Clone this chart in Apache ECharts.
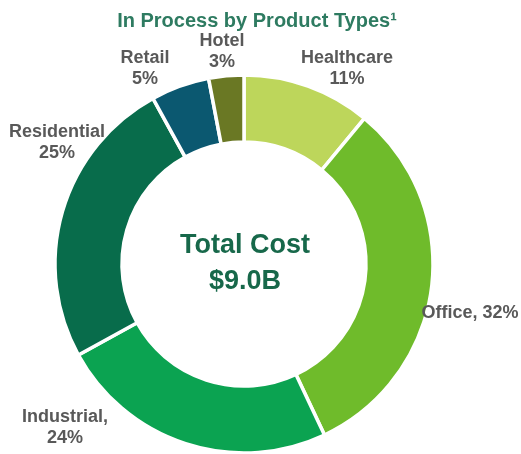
<!DOCTYPE html>
<html>
<head>
<meta charset="utf-8">
<script src="https://cdn.jsdelivr.net/npm/echarts@6/dist/echarts.min.js"></script>
<style>
  html, body { margin: 0; padding: 0; background: #fff; }
  #chart { width: 521px; height: 454px; }
</style>
</head>
<body>
<div id="chart"></div>
<script>
// Product types in process, share of total cost (%)
const productTypes = ['Healthcare', 'Office', 'Industrial', 'Residential', 'Retail', 'Hotel'];
const shares = [11, 32, 24, 25, 5, 3];
const sliceColors = ['#bdd65b', '#6fbb2b', '#0ba351', '#086c4b', '#0b5870', '#6a7824'];
// how each label's text is laid out (single line or two lines)
const labelStyles = ['stack', 'inline', 'stack-comma', 'stack', 'stack', 'stack'];
const totalCostLabel = '$9.0B';

// label anchor points (centre of each label block)
const labelAnchors = [
  [347, 69], [470, 313], [65, 428], [57, 143], [145, 69], [222, 52]
];

const chart = echarts.init(document.getElementById('chart'));

chart.setOption({
  animation: false,
  title: {
    text: 'In Process by Product Types¹',
    left: 252,
    textAlign: 'center',
    top: 6,
    textStyle: { fontFamily: 'Liberation Sans', fontSize: 20, fontWeight: 'bold', color: '#2e7b61' }
  },
  graphic: [
    {
      type: 'text',
      style: {
        text: 'Total Cost', x: 245, y: 246,
        textAlign: 'center', textVerticalAlign: 'middle',
        font: 'bold 27px "Liberation Sans"', fill: '#17684a'
      }
    },
    {
      type: 'text',
      style: {
        text: totalCostLabel, x: 245, y: 282,
        textAlign: 'center', textVerticalAlign: 'middle',
        font: 'bold 27px "Liberation Sans"', fill: '#17684a'
      }
    }
  ],
  series: [{
    type: 'pie',
    center: [244, 264],
    radius: [122, 189],
    startAngle: 90,
    clockwise: true,
    avoidLabelOverlap: false,
    itemStyle: { borderColor: '#fff', borderWidth: 3.5 },
    label: {
      show: true,
      position: 'outside',
      fontFamily: 'Liberation Sans',
      fontSize: 18,
      fontWeight: 'bold',
      color: '#595959',
      lineHeight: 21,
      formatter: function (p) {
        const s = labelStyles[p.dataIndex];
        if (s === 'inline') return p.name + ', ' + p.value + '%';
        if (s === 'stack-comma') return p.name + ',\n' + p.value + '%';
        return p.name + '\n' + p.value + '%';
      }
    },
    labelLine: { show: false },
    labelLayout: function (params) {
      const a = labelAnchors[params.dataIndex];
      return { x: a[0], y: a[1], align: 'center', verticalAlign: 'middle' };
    },
    data: productTypes.map((name, i) => ({
      name: name,
      value: shares[i],
      itemStyle: { color: sliceColors[i] }
    }))
  }]
});
</script>
</body>
</html>
